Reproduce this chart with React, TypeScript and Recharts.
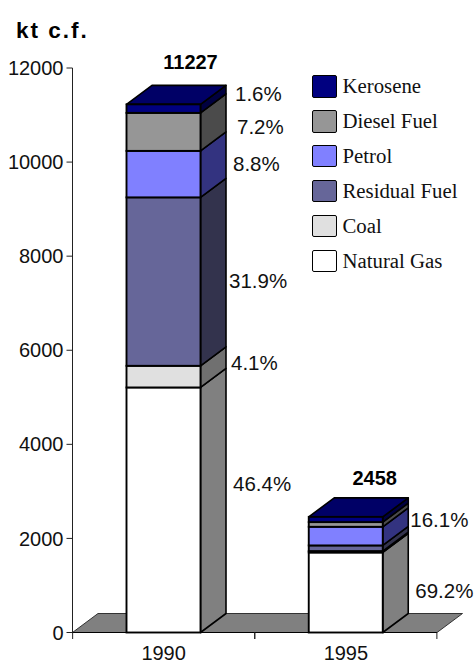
import React from "react";
import { BarChart, Bar, XAxis, YAxis, Legend, LabelList, usePlotArea } from "recharts";

const categories = ["1990", "1995"];
const totals = [11227, 2458];
const naturalGas = [5209, 1701];
const coal = [460, 30];
const residualFuel = [3581, 120];
const petrol = [988, 396];
const dieselFuel = [808, 100];
const kerosene = [181, 111];
const naturalGasPct = ["46.4%", "69.2%"];
const coalPct = ["4.1%", ""];
const residualPct = ["31.9%", ""];
const petrolPct = ["8.8%", "16.1%"];
const dieselPct = ["7.2%", ""];
const kerosenePct = ["1.6%", ""];
const yTicks = [0, 2000, 4000, 6000, 8000, 10000, 12000];

const W = 474;
const H = 664;
const DX = 25.5;
const DY = 19;
const SANS = "'Liberation Sans', Arial, sans-serif";
const SERIF = "'Liberation Serif', 'Times New Roman', serif";

const data = categories.map((c, i) => ({
  category: c,
  total: totals[i],
  naturalGas: naturalGas[i],
  coal: coal[i],
  residualFuel: residualFuel[i],
  petrol: petrol[i],
  dieselFuel: dieselFuel[i],
  kerosene: kerosene[i],
  naturalGasPct: naturalGasPct[i],
  coalPct: coalPct[i],
  residualPct: residualPct[i],
  petrolPct: petrolPct[i],
  dieselPct: dieselPct[i],
  kerosenePct: kerosenePct[i],
}));

const series = [
  { key: "naturalGas", name: "Natural Gas", fill: "#ffffff", side: "#808080", pct: "naturalGasPct", nudge: [[7, -26], [7, -2]] },
  { key: "coal", name: "Coal", fill: "#e0e0e0", side: "#707070", pct: "coalPct", nudge: [[5, -14], [0, 0]] },
  { key: "residualFuel", name: "Residual Fuel", fill: "#666699", side: "#33334d", pct: "residualPct", nudge: [[3, -1], [0, 0]] },
  { key: "petrol", name: "Petrol", fill: "#8080ff", side: "#333380", pct: "petrolPct", nudge: [[7, -11], [2, -17]] },
  { key: "dieselFuel", name: "Diesel Fuel", fill: "#969696", side: "#4b4b4b", pct: "dieselPct", nudge: [[11, -5], [0, 0]] },
  { key: "kerosene", name: "Kerosene", fill: "#000080", side: "#000040", top: "#000066", pct: "kerosenePct", nudge: [[9, -15], [0, 0]] },
];

const totalNudge = [[27, -42], [29, -39]];

function makeShape(s: any) {
  return function Shape(p: any) {
    const { x, y, width: w, height: h } = p;
    const r = x + w;
    const b = y + h;
    return (
      <g>
        <polygon
          points={`${r},${b} ${r},${y} ${r + DX},${y - DY} ${r + DX},${b - DY}`}
          fill={s.side}
          stroke="#000"
          strokeWidth={1.6}
          strokeLinejoin="round"
        />
        {s.top && (
          <polygon
            points={`${x},${y} ${x + DX},${y - DY} ${r + DX},${y - DY} ${r},${y}`}
            fill={s.top}
            stroke="#000"
            strokeWidth={1.6}
            strokeLinejoin="round"
          />
        )}
        <rect x={x} y={y} width={w} height={h} fill={s.fill} stroke="#000" strokeWidth={1.9} />
      </g>
    );
  };
}

function makePctLabel(s: any) {
  return function PctLabel(p: any) {
    const { x, y, width, height, value, index } = p;
    if (!value) return null;
    const [nx, ny] = s.nudge[index];
    return (
      <text
        x={x + width + DX + nx}
        y={y + height / 2 + ny}
        fill="#111"
        fontFamily={SANS}
        fontSize={20.5}
        dominantBaseline="central"
      >
        {value}
      </text>
    );
  };
}

function TotalLabel(p: any) {
  const { x, y, width, value, index } = p;
  const [nx, ny] = totalNudge[index];
  return (
    <text
      x={x + width / 2 + nx}
      y={y + ny}
      fill="#000"
      fontFamily={SANS}
      fontWeight="bold"
      fontSize={20}
      textAnchor="middle"
      dominantBaseline="central"
    >
      {value}
    </text>
  );
}

function Floor() {
  const a = usePlotArea();
  if (!a) return null;
  const l = a.x;
  const r = a.x + a.width;
  const b = a.y + a.height;
  return (
    <polygon
      points={`${l},${b} ${l + DX},${b - DY} ${r + DX},${b - DY} ${r},${b}`}
      fill="#808080"
      stroke="#333"
      strokeWidth={1}
    />
  );
}

function Title() {
  return (
    <text x={16} y={30} fontFamily={SANS} fontWeight="bold" fontSize={22.5} letterSpacing={2} fill="#000" dominantBaseline="central">
      kt c.f.
    </text>
  );
}

function XTick(p: any) {
  const { x, y } = p;
  const band = 182;
  return (
    <g>
      <line x1={x - band / 2} x2={x - band / 2} y1={y - 8} y2={y - 1.5} stroke="#222" />
      <line x1={x + band / 2} x2={x + band / 2} y1={y - 8} y2={y - 1.5} stroke="#222" />
      <text x={x} y={y + 12.5} textAnchor="middle" dominantBaseline="central" fontFamily={SANS} fontSize={20} fill="#111">
        {p.payload.value}
      </text>
    </g>
  );
}

function LegendBox() {
  const rows = [...series].reverse();
  return (
    <div>
      {rows.map((s) => (
        <div key={s.key} style={{ display: "flex", alignItems: "center", height: 34.9 }}>
          <div
            style={{
              width: 25,
              height: 22.5,
              boxSizing: "border-box",
              background: s.fill,
              border: "1.6px solid #000",
              borderRadius: 2,
              marginRight: 5.5,
            }}
          />
          <span style={{ fontFamily: SERIF, fontSize: 20.8, color: "#111", whiteSpace: "nowrap", lineHeight: "20px" }}>{s.name}</span>
        </div>
      ))}
    </div>
  );
}

export default function App() {
  return (
    <div style={{ position: "absolute", left: 0, top: 0, width: W, height: H }}>
      <BarChart
        width={W}
        height={H}
        data={data}
        barSize={74}
        margin={{ top: 68, right: 37, bottom: 30.5, left: 0 }}
      >
        <Floor />
        <Title />
        <YAxis
          width={72.5}
          domain={[0, 12000]}
          ticks={yTicks}
          interval={0}
          tickSize={6}
          tickMargin={3}
          stroke="#222"
          tick={{ fontFamily: SANS, fontSize: 20, fill: "#111" }}
        />
        <XAxis dataKey="category" height={1} tickLine={false} stroke="#000" tick={<XTick />} interval={0} />
        <Legend
          layout="vertical"
          align="center"
          verticalAlign="middle"
          content={<LegendBox />}
          wrapperStyle={{ position: "absolute", left: 312, top: 69, bottom: "auto", right: "auto", width: 160 }}
        />
        {series.map((s) => (
          <Bar
            key={s.key}
            dataKey={s.key}
            name={s.name}
            stackId="a"
            fill={s.fill}
            isAnimationActive={false}
            shape={makeShape(s)}
          >
            <LabelList dataKey={s.pct} content={makePctLabel(s)} />
            {s.key === "kerosene" && <LabelList dataKey="total" content={TotalLabel} />}
          </Bar>
        ))}
      </BarChart>
    </div>
  );
}
